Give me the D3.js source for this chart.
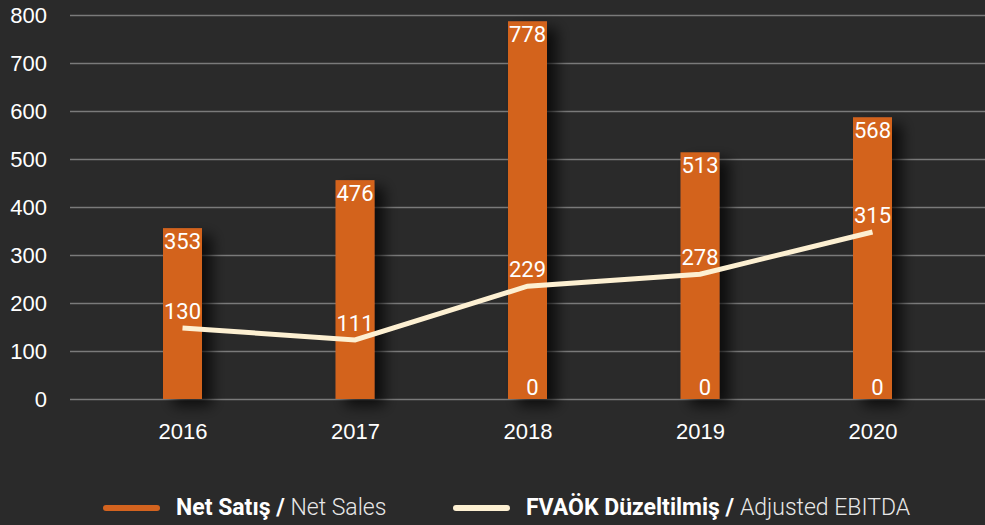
<!DOCTYPE html>
<html>
<head>
<meta charset="utf-8">
<script src="https://cdnjs.cloudflare.com/ajax/libs/d3/7.8.5/d3.min.js"></script>
<style>
  html, body { margin: 0; padding: 0; background: #2a2a2a; }
  svg { display: block; font-family: Roboto, "DejaVu Sans", sans-serif; }
</style>
</head>
<body>
<svg id="chart" width="985" height="525"></svg>
<script>
// data
var years = ['2016', '2017', '2018', '2019', '2020'];
var netSales = [356, 456, 787, 514, 587];          // bar heights as drawn
var netSalesLabels = ['353', '476', '778', '513', '568'];
var ebitda = [148, 123, 235, 260, 348];            // line points as drawn
var ebitdaLabels = ['130', '111', '229', '278', '315'];
var zeroLabels = ['', '', '0', '0', '0'];
var yTicks = [0, 100, 200, 300, 400, 500, 600, 700, 800];

var svg = d3.select('#chart');
var W = 985, H = 525;
var barW = 39;

var x = d3.scalePoint().domain(years).range([182.5, 872.5]);
var y = d3.scaleLinear().domain([0, 800]).range([399, 15]);

// bar shadow
var defs = svg.append('defs');
var f = defs.append('filter').attr('id', 'shadow')
  .attr('x', '-50%').attr('y', '-20%').attr('width', '250%').attr('height', '150%');
f.append('feDropShadow').attr('dx', 10).attr('dy', 7).attr('stdDeviation', 7)
  .attr('flood-color', '#000').attr('flood-opacity', 0.7);

// grid + y labels
var yAxis = d3.axisLeft(y).tickValues(yTicks).tickSize(-(W - 70)).tickPadding(23);
var gy = svg.append('g').attr('transform', 'translate(70,0)').call(yAxis);
gy.select('.domain').remove();
gy.selectAll('.tick line').attr('stroke', '#7a7a7a').attr('stroke-width', 1.5);
gy.selectAll('.tick text').attr('fill', '#fff').attr('font-size', 22).attr('font-weight', 500)
  .attr('dy', '0.36em');

// x labels
var xAxis = d3.axisBottom(x).tickSize(0).tickPadding(0);
var gx = svg.append('g').attr('transform', 'translate(0,423)').call(xAxis);
gx.select('.domain').remove();
gx.selectAll('.tick text').attr('fill', '#fff').attr('font-size', 22).attr('font-weight', 500)
  .attr('dy', '0.71em');

// bars
svg.append('g').selectAll('rect').data(netSales).join('rect')
  .attr('x', function(d, i) { return x(years[i]) - barW / 2; })
  .attr('y', function(d) { return y(d); })
  .attr('width', barW)
  .attr('height', function(d) { return y(0) - y(d); })
  .attr('fill', '#d3631f')
  .attr('filter', 'url(#shadow)');

// line
var line = d3.line().x(function(d, i) { return x(years[i]); }).y(function(d) { return y(d); });
svg.append('path').datum(ebitda)
  .attr('d', line)
  .attr('fill', 'none')
  .attr('stroke', '#fdf0d2')
  .attr('stroke-width', 5);

// labels
var lbl = svg.append('g').attr('fill', '#fff').attr('font-size', 22).attr('font-weight', 400)
  .attr('text-anchor', 'middle');
lbl.selectAll('.bl').data(netSales).join('text').attr('class', 'bl')
  .attr('x', function(d, i) { return x(years[i]); })
  .attr('y', function(d) { return y(d) + 21; })
  .text(function(d, i) { return netSalesLabels[i]; });
lbl.selectAll('.ll').data(ebitda).join('text').attr('class', 'll')
  .attr('x', function(d, i) { return x(years[i]); })
  .attr('y', function(d) { return y(d) - 9; })
  .text(function(d, i) { return ebitdaLabels[i]; });
lbl.selectAll('.zl').data(zeroLabels).join('text').attr('class', 'zl')
  .attr('x', function(d, i) { return x(years[i]) + 5; })
  .attr('y', y(0) - 4)
  .text(function(d) { return d; });

// legend
var legend = [
  {bold: 'Net Satış / ', light: 'Net Sales', color: '#d3631f', x: 103},
  {bold: 'FVAÖK Düzeltilmiş / ', light: 'Adjusted EBITDA', color: '#fdf0d2', x: 453}
];
var lg = svg.append('g').selectAll('g').data(legend).join('g')
  .attr('transform', function(d) { return 'translate(' + d.x + ',508)'; });
lg.append('line').attr('x1', 3).attr('x2', 54).attr('y1', 0).attr('y2', 0)
  .attr('stroke', function(d) { return d.color; }).attr('stroke-width', 6)
  .attr('stroke-linecap', 'round');
var lt = lg.append('text').attr('x', 73).attr('y', 7).attr('fill', '#fff').attr('font-size', 23);
lt.append('tspan').attr('font-weight', 700).text(function(d) { return d.bold; });
lt.append('tspan').attr('font-weight', 300).attr('fill', '#e8e8e8').text(function(d) { return d.light; });
</script>
</body>
</html>
